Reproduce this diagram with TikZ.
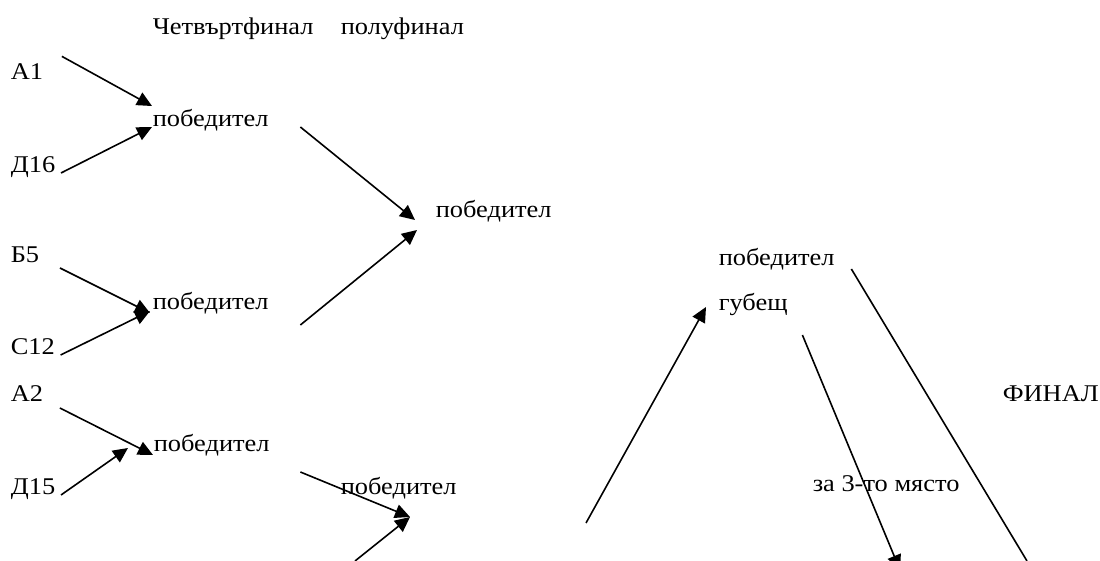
\documentclass[tikz,border=0pt]{standalone}
\usepackage{fontspec}
\setmainfont{Liberation Serif}[FakeStretch=1.1]
\usetikzlibrary{arrows.meta}

\begin{document}
\begin{tikzpicture}[
            x=0.5pt, y=-0.5pt,
            >={Triangle[length=7.5pt,width=7pt]},
            line width=0.8pt,
            every node/.style={inner sep=0pt, anchor=base west, font=\fontsize{12}{14}\selectfont}
        ]
            \useasboundingbox (0,0) rectangle (1100,561);

            % Заглавия
            \node (quarter) at (152,35) {Четвъртфинал};
            \node (semi) at (340,35) {полуфинал};

            % Отбори
            \node (a1) at (10,80) {А1};
            \node (d16) at (10,173) {Д16};
            \node (b5) at (10,263) {Б5};
            \node (c12) at (10,355) {С12};
            \node (a2) at (10,402) {А2};
            \node (d15) at (10,495) {Д15};

            % Победители
            \node (win1) at (152,127) {победител};
            \node (win2) at (152,310) {победител};
            \node (win3) at (153,452) {победител};
            \node (semiwin1) at (435,218) {победител};
            \node (semiwin2) at (340,495) {победител};
            \node (finalwin) at (718,266) {победител};
            \node (finallose) at (718,311) {губещ};
            \node (final) at (1002,402) {ФИНАЛ};
            \node (third) at (812,492) {за 3-то място};

            \coordinate (semifoot) at (355,561);
            \coordinate (loserfoot) at (586,523);
            \coordinate (thirdend) at (900,570);
            \coordinate (finalend) at (1027,561);

            % Връзки
            \draw[->] ([xshift=9pt,yshift=3.5pt]a1.north east) -- ([yshift=1.5pt]win1.north west);
            \draw[->] ([xshift=2.5pt]d16.base east) -- (win1.base west);
            \draw[->] ([xshift=15.5pt]win1.base east) -- ([xshift=-10pt,yshift=-1pt]semiwin1.base west);
            \draw[->] ([xshift=10pt,yshift=-2.5pt]b5.base east) -- ([xshift=-1pt,yshift=-1.5pt]win2.base west);
            \draw[->] ([xshift=2.5pt]c12.base east) -- ([xshift=-1pt,yshift=-0.5pt]win2.base west);
            \draw[->] ([xshift=15.5pt,yshift=-7.5pt]win2.base east) -- ([xshift=-9pt,yshift=-6pt]semiwin1.base west);
            \draw[->] ([xshift=8pt,yshift=-3pt]a2.base east) -- ([yshift=-1.5pt]win3.base west);
            \draw[->] ([xshift=2.5pt]d15.base east) -- ([xshift=-12.5pt,yshift=2pt]win3.base west);
            \draw[->] ([xshift=15pt,yshift=-10pt]win3.base east) -- ([xshift=35pt,yshift=-11pt]semiwin2.base west);
            \draw[->] (semifoot) -- ([xshift=35pt,yshift=-11pt]semiwin2.base west);
            \draw[->] (loserfoot) -- ([xshift=-6pt,yshift=2pt]finallose.base west);
            \draw[->] ([xshift=7pt,yshift=-12pt]finallose.base east) -- (thirdend);
            \draw ([xshift=8pt,yshift=-1.5pt]finalwin.base east) -- (finalend);
        \end{tikzpicture}
\end{document}
